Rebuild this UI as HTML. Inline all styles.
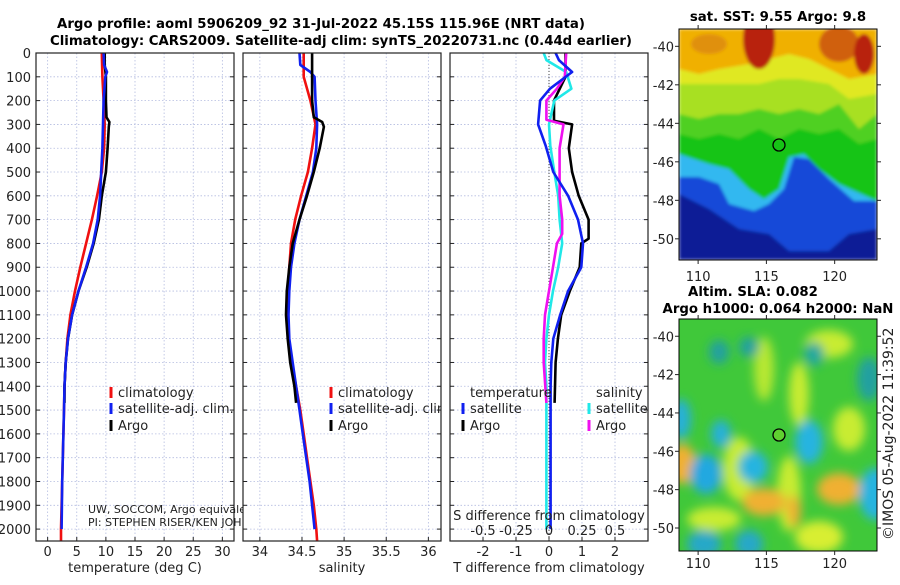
<!DOCTYPE html>
<html><head><meta charset="utf-8">
<style>
body{margin:0;background:#fff;}
svg text{font-family:"DejaVu Sans","Liberation Sans",sans-serif;fill:#222;}
.t{font-weight:bold;font-size:13.3px;fill:#000;}
.tk{font-size:13px;}
</style></head>
<body>
<svg id="fig" width="900" height="580" viewBox="0 0 900 580" xmlns="http://www.w3.org/2000/svg">
<defs>
<clipPath id="cp1"><rect x="36" y="53" width="198" height="488"/></clipPath>
<clipPath id="cp1b"><rect x="36" y="53" width="207" height="488"/></clipPath>
<clipPath id="cp2"><rect x="243" y="53" width="198" height="488"/></clipPath>
<clipPath id="cp3"><rect x="450" y="53" width="198" height="488"/></clipPath>
<clipPath id="cpm1"><rect x="0" y="0" width="198" height="231"/></clipPath>
<clipPath id="cpm2"><rect x="0" y="0" width="198" height="232"/></clipPath>
<filter id="bl" x="-30%" y="-30%" width="160%" height="160%"><feGaussianBlur stdDeviation="5"/></filter>
<filter id="bl2"><feGaussianBlur stdDeviation="1.5"/></filter>
</defs>
<text class="t" x="321" y="28" text-anchor="middle" textLength="528">Argo profile: aoml 5906209_92 31-Jul-2022 45.15S 115.96E (NRT data)</text>
<text class="t" x="341" y="45" text-anchor="middle" textLength="582">Climatology: CARS2009. Satellite-adj clim: synTS_20220731.nc (0.44d earlier)</text>
<g id="charts"></g>

<text class="t" x="778" y="21" text-anchor="middle">sat. SST: 9.55 Argo: 9.8</text>
<g transform="translate(679,29)">
<g clip-path="url(#cpm1)" filter="url(#bl2)">
<rect width="198" height="231" fill="#0c1a96"/>
<polygon fill="#1848d8" points="0,0 198,0 198,200 170,205 150,222 110,222 90,205 60,200 30,180 0,165"/>
<polygon fill="#30b8f0" points="0,0 198,0 198,172 175,172 150,150 130,130 115,128 105,160 90,175 75,182 50,175 40,155 20,148 0,148"/>
<polygon fill="#18c418" points="0,0 198,0 198,172 160,155 140,140 125,125 110,128 100,160 85,170 70,160 50,140 30,135 0,125"/>
<polygon fill="#50d020" points="0,0 198,0 198,110 180,115 160,100 140,105 120,100 100,110 80,100 60,110 40,105 20,110 0,105"/>
<polygon fill="#a8e020" points="0,0 198,0 198,85 180,100 160,75 140,85 120,80 100,85 80,80 60,85 40,85 20,90 0,85"/>
<polygon fill="#e0e820" points="0,0 198,0 198,65 170,70 150,55 120,50 100,50 80,55 60,55 30,55 0,55"/>
<polygon fill="#f0b000" points="0,0 198,0 198,45 170,50 150,40 130,30 110,25 90,30 70,35 40,40 20,45 0,40"/>
<ellipse cx="80" cy="10" rx="16" ry="30" fill="#b82010"/>
<ellipse cx="160" cy="15" rx="20" ry="18" fill="#d06010"/>
<ellipse cx="185" cy="25" rx="10" ry="20" fill="#b82010"/>
<ellipse cx="30" cy="15" rx="18" ry="10" fill="#e09010"/>
</g>
<rect width="198" height="231" fill="none" stroke="#000" stroke-width="1"/>
<circle cx="100" cy="116" r="6" fill="none" stroke="#000" stroke-width="1.3"/>
</g>

<text class="t" x="753" y="296" text-anchor="middle">Altim. SLA: 0.082</text>
<text class="t" x="778" y="313" text-anchor="middle">Argo h1000: 0.064 h2000: NaN</text>
<g transform="translate(679,319)">
<g clip-path="url(#cpm2)">
<rect width="198" height="232" fill="#40c83a"/>
<g filter="url(#bl)">
<ellipse cx="60" cy="150" rx="16" ry="32" fill="#c8ec30"/>
<ellipse cx="110" cy="175" rx="12" ry="38" fill="#c8ec30"/>
<ellipse cx="120" cy="75" rx="10" ry="32" fill="#c8ec30"/>
<ellipse cx="85" cy="50" rx="10" ry="32" fill="#b8e830"/>
<ellipse cx="170" cy="110" rx="16" ry="22" fill="#c8ec30"/>
<ellipse cx="140" cy="218" rx="24" ry="16" fill="#d8ee30"/>
<ellipse cx="35" cy="200" rx="27" ry="12" fill="#c8ec30"/>
<ellipse cx="150" cy="25" rx="24" ry="14" fill="#c8ec30"/>
<ellipse cx="3" cy="145" rx="14" ry="20" fill="#f0b030"/>
<ellipse cx="160" cy="170" rx="22" ry="16" fill="#f0b030"/>
<ellipse cx="85" cy="183" rx="22" ry="14" fill="#f0b030"/>
<ellipse cx="115" cy="192" rx="7" ry="16" fill="#f0b030"/>
<ellipse cx="27" cy="155" rx="16" ry="20" fill="#20a8e0"/>
<ellipse cx="74" cy="148" rx="15" ry="16" fill="#28b4e0"/>
<ellipse cx="42" cy="115" rx="10" ry="14" fill="#28b0d8"/>
<ellipse cx="130" cy="123" rx="14" ry="22" fill="#28b4e0"/>
<ellipse cx="196" cy="175" rx="16" ry="26" fill="#28b4e0"/>
<ellipse cx="2" cy="100" rx="10" ry="20" fill="#28b0d8"/>
<ellipse cx="25" cy="225" rx="17" ry="14" fill="#28a8c8"/>
<ellipse cx="70" cy="225" rx="14" ry="14" fill="#28a8c8"/>
<ellipse cx="70" cy="28" rx="10" ry="10" fill="#20a0a0"/>
<ellipse cx="40" cy="33" rx="10" ry="12" fill="#20a0a0"/>
<ellipse cx="190" cy="60" rx="12" ry="22" fill="#20a0a0"/>
<ellipse cx="135" cy="35" rx="10" ry="12" fill="#20a8a0"/>
</g></g>
<rect width="198" height="232" fill="none" stroke="#000" stroke-width="1"/>
<circle cx="100" cy="116" r="6" fill="#60d030" stroke="#000" stroke-width="1.3"/>
</g>
<text transform="translate(893,540) rotate(-90)" font-size="14">©IMOS 05-Aug-2022 11:39:52</text>
</svg>
<script>
// ---------- data ----------
const depthTicks=[0,100,200,300,400,500,600,700,800,900,1000,1100,1200,1300,1400,1500,1600,1700,1800,1900,2000];
const tempTickLabels=[0,5,10,15,20,25,30];
const salTickLabels=[34,34.5,35,35.5,36];
const tdiffTickLabels=[-2,-1,0,1,2];
const sdiffTickLabels=[-0.5,-0.25,0,0.25,0.5];
const lonTicks=[110,115,120];
const latTicks=[-40,-42,-44,-46,-48,-50];

const climDepth=[0,100,200,300,400,500,600,700,800,900,1000,1100,1200,1300,1400,1500,1600,1700,1800,1900,2000,2050];
const climTemp=[9.3,9.4,9.6,9.8,9.7,9.3,8.5,7.6,6.6,5.6,4.7,3.9,3.4,3.1,2.9,2.8,2.7,2.6,2.5,2.4,2.3,2.3];
const climSal=[34.52,34.52,34.6,34.66,34.62,34.57,34.49,34.42,34.37,34.35,34.33,34.32,34.34,34.38,34.43,34.48,34.52,34.56,34.6,34.64,34.67,34.68];

const satDepth=[0,50,80,100,200,300,400,500,600,700,800,900,1000,1100,1200,1300,1400,1500,1600,1700,1800,1900,2000];
const satTemp=[9.6,9.7,10.2,9.9,9.6,9.5,9.4,9.2,9.0,8.6,7.8,6.6,5.3,4.2,3.5,3.1,2.9,2.8,2.7,2.6,2.5,2.45,2.4];
const satSal=[34.47,34.48,34.6,34.65,34.66,34.68,34.67,34.63,34.55,34.47,34.41,34.37,34.35,34.34,34.35,34.39,34.43,34.47,34.51,34.55,34.59,34.62,34.65];

const argoDepth=[0,50,100,200,270,290,310,400,500,600,700,800,900,1000,1100,1200,1300,1400,1470];
const argoTemp=[9.8,9.8,10.0,10.0,10.1,10.6,10.5,10.3,10.0,9.3,8.8,7.9,6.7,5.3,4.2,3.5,3.1,2.9,2.9];
const argoSal=[34.62,34.62,34.62,34.62,34.64,34.74,34.76,34.71,34.64,34.56,34.47,34.39,34.35,34.32,34.31,34.33,34.36,34.41,34.43];

const dDepth=[0,30,80,150,200,300,390,500,600,700,800,900,1000,1100,1200,1300,1400,1500,2000];
const dTsat=[0.2,0.3,0.7,0.03,-0.27,-0.33,-0.1,0.13,0.58,0.88,1.03,0.98,0.58,0.34,0.13,0.07,0.05,0.05,0.05];
const dSsat=[-0.04,-0.02,0.13,0.17,0.04,0.0,0.01,0.04,0.07,0.08,0.1,0.07,0.03,0.0,-0.02,-0.03,-0.02,-0.02,-0.02];
const dTargoDepth=[0,100,200,285,300,400,500,600,700,780,800,900,1000,1100,1200,1300,1470];
const dTargo=[0.5,0.5,0.15,0.15,0.7,0.6,0.7,0.9,1.2,1.2,0.98,0.93,0.63,0.37,0.27,0.2,0.17];
const dSargoDepth=[0,100,150,200,280,300,400,500,600,700,760,800,900,1000,1100,1200,1300,1470];
const dSargo=[0.13,0.12,0.06,-0.02,-0.02,0.11,0.08,0.08,0.08,0.1,0.1,0.06,0.03,0.0,-0.03,-0.04,-0.04,-0.02];

// ---------- scales ----------
const NS="http://www.w3.org/2000/svg";
const top0=53, bot0=541, dmax=2050;
const yD=d=>top0+d*(bot0-top0)/dmax;
function mk(tag,attrs,parent){const e=document.createElementNS(NS,tag);for(const k in attrs)e.setAttribute(k,attrs[k]);parent.appendChild(e);return e;}
const root=document.getElementById('charts');
const panels=[
 {x:36,xmin:-2,xmax:32,clip:'cp1',name:'temperature'},
 {x:243,xmin:33.8,xmax:36.15,clip:'cp2',name:'salinity'},
 {x:450,xmin:-3,xmax:3,clip:'cp3',name:'difference'}];
const W=198;
panels.forEach(p=>{p.sx=v=>p.x+(v-p.xmin)*W/(p.xmax-p.xmin);});

function panelFrame(p,ticks,labels){
  const g=mk('g',{},root);
  
  
  mk('rect',{x:p.x,y:top0,width:W,height:bot0-top0,fill:'#fff'},g);
  depthTicks.forEach(d=>{
    const l=mk('line',{x1:p.x,x2:p.x+W,y1:yD(d),y2:yD(d),stroke:'#b4bce0','stroke-width':0.8,'stroke-dasharray':'1.5,2'},g);
    
    
    mk('line',{x1:p.x,x2:p.x+4,y1:yD(d),y2:yD(d),stroke:'#222'},g);
    mk('line',{x1:p.x+W-4,x2:p.x+W,y1:yD(d),y2:yD(d),stroke:'#222'},g);
  });
  ticks.forEach((v,i)=>{
    const x=p.sx(v);
    const l=mk('line',{x1:x,x2:x,y1:top0,y2:bot0,stroke:'#b4bce0','stroke-width':0.8,'stroke-dasharray':'1.5,2'},g);
    
    
    mk('line',{x1:x,x2:x,y1:bot0-4,y2:bot0,stroke:'#222'},g);
    const t=mk('text',{x:x,y:556,'text-anchor':'middle',class:'tk'},g);
    t.textContent=labels[i];
    
    
  });
  return g;
}
function drawLine(p,xs,ds,color,name,g){
  const pts=xs.map((v,i)=>p.sx(v).toFixed(1)+','+yD(ds[i]).toFixed(1)).join(' ');
  const l=mk('polyline',{points:pts,fill:'none',stroke:color,'stroke-width':2.6,'stroke-linejoin':'round','clip-path':'url(#'+p.clip+')'},g);
  
  
}
function frame(p,g){mk('rect',{x:p.x,y:top0,width:W,height:bot0-top0,fill:'none',stroke:'#222','stroke-width':1.2},g);}
function txt(g,x,y,s,name,anchor,size){const t=mk('text',{x:x,y:y,'text-anchor':anchor||'start','font-size':size||13},g);t.textContent=s;return t;}
function legendEntry(g,x,y,color,label,name){
  const r=mk('rect',{x:x-1.5,y:y-10,width:3,height:11,fill:color},g);
  
  
  txt(g,x+7,y,label,name);
}

// Panel 1: temperature
let p=panels[0];
let g=panelFrame(p,tempTickLabels,tempTickLabels.map(String));
depthTicks.forEach(d=>{txt(g,31,yD(d)+5,String(d),'y-tick-label','end');});
drawLine(p,climTemp,climDepth,'#f01010','temp-climatology-line',g);
drawLine(p,argoTemp,argoDepth,'#000','temp-argo-line',g);
drawLine(p,satTemp,satDepth,'#1020f0','temp-satellite-line',g);
legendEntry(g,111,397,'#f01010','climatology','legend-climatology');
legendEntry(g,111,413,'#1020f0','satellite-adj. clim.','legend-satellite');
legendEntry(g,111,430,'#000','Argo','legend-argo');
const cg=mk('g',{'clip-path':'url(#cp1b)'},g);
txt(cg,88,513,'UW, SOCCOM, Argo equivalent','float-info-1','start',11);
txt(cg,88,526,'PI: STEPHEN RISER/KEN JOHNSON','float-info-2','start',11);
frame(p,g);
txt(g,135,572,'temperature (deg C)','x-axis-title','middle');

// Panel 2: salinity
p=panels[1];
g=panelFrame(p,salTickLabels,salTickLabels.map(String));
drawLine(p,climSal,climDepth,'#f01010','sal-climatology-line',g);
drawLine(p,satSal,satDepth,'#1020f0','sal-satellite-line',g);
drawLine(p,argoSal,argoDepth,'#000','sal-argo-line',g);
const lg2=mk('g',{'clip-path':'url(#cp2)'},g);
legendEntry(lg2,331,397,'#f01010','climatology','legend-climatology');
legendEntry(lg2,331,413,'#1020f0','satellite-adj. clim.','legend-satellite');
legendEntry(lg2,331,430,'#000','Argo','legend-argo');
frame(p,g);
txt(g,342,572,'salinity','x-axis-title','middle');

// Panel 3: differences (S plotted scaled by 4 onto T axis)
p=panels[2];
g=panelFrame(p,tdiffTickLabels,tdiffTickLabels.map(String));
const z=mk('line',{x1:p.sx(0),x2:p.sx(0),y1:top0,y2:bot0,stroke:'#444','stroke-width':1,'stroke-dasharray':'1,2'},g);


const sK=4;
drawLine(p,dTargo,dTargoDepth,'#000','tdiff-argo-line',g);
drawLine(p,dSsat.map(v=>v*sK),dDepth,'#20e8e8','sdiff-satellite-line',g);
drawLine(p,dSargo.map(v=>v*sK),dSargoDepth,'#f010f0','sdiff-argo-line',g);
drawLine(p,dTsat,dDepth,'#1020f0','tdiff-satellite-line',g);
txt(g,470,397,'temperature','legend-temperature-header');
txt(g,596,397,'salinity','legend-salinity-header');
legendEntry(g,463,413,'#1020f0','satellite','legend-t-satellite');
legendEntry(g,463,430,'#000','Argo','legend-t-argo');
legendEntry(g,589,413,'#20e8e8','satellite','legend-s-satellite');
legendEntry(g,589,430,'#f010f0','Argo','legend-s-argo');
txt(g,549,520,'S difference from climatology','s-axis-title','middle');
sdiffTickLabels.forEach(v=>{txt(g,p.sx(v*sK),535,String(v),'s-tick-label','middle');});
frame(p,g);
txt(g,549,572,'T difference from climatology','x-axis-title','middle');

// Map axes
function mapAxes(x0,y0,w,h,lonMin,lonMax,latTop,latBot,lonLabelY,name){
  const mg=mk('g',{},root.parentNode);
  
  
  const sx=l=>x0+(l-lonMin)*w/(lonMax-lonMin);
  const sy=l=>y0+(latTop-l)*h/(latTop-latBot);
  lonTicks.forEach(l=>{mk('line',{x1:sx(l),x2:sx(l),y1:y0+h,y2:y0+h+4,stroke:'#222'},mg);mk('line',{x1:sx(l),x2:sx(l),y1:y0-4,y2:y0,stroke:'#222'},mg);txt(mg,sx(l),lonLabelY,String(l),'lon-tick-label','middle');});
  latTicks.forEach(l=>{mk('line',{x1:x0-4,x2:x0,y1:sy(l),y2:sy(l),stroke:'#222'},mg);mk('line',{x1:x0+w,x2:x0+w+4,y1:sy(l),y2:sy(l),stroke:'#222'},mg);txt(mg,x0-5,sy(l)+5,String(l),'lat-tick-label','end');});
}
mapAxes(679,29,198,231,108.6,123.1,-39.1,-51.1,281,'sst-map-axes');
mapAxes(679,319,198,232,108.6,123.1,-39.1,-51.2,568,'sla-map-axes');
</script>
</body></html>
